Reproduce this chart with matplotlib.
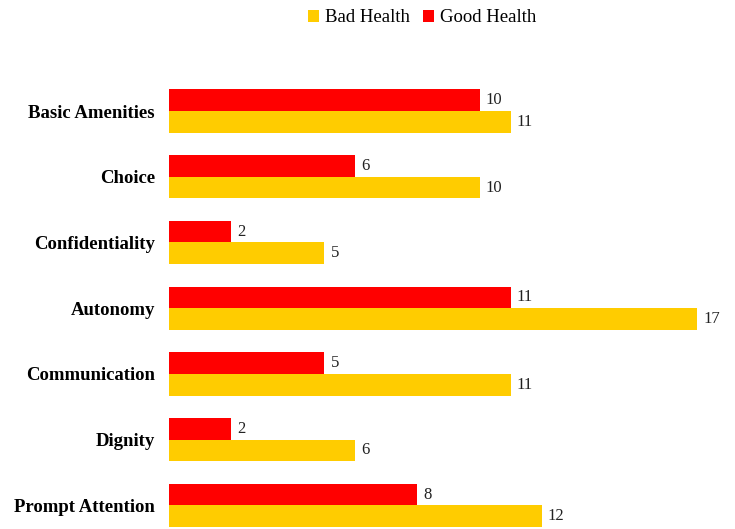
import matplotlib.pyplot as plt
import numpy as np

plt.rcParams['font.family'] = ['Liberation Serif', 'DejaVu Serif']

# 数据
categories = ['Basic Amenities', 'Choice', 'Confidentiality', 'Autonomy',
              'Communication', 'Dignity', 'Prompt Attention']
good_health = [10, 6, 2, 11, 5, 2, 8]
bad_health = [11, 10, 5, 17, 11, 6, 12]

red = '#FF0000'
gold = '#FFCC00'

fig = plt.figure(figsize=(7.35, 5.29), dpi=100)
ax = fig.add_axes([169 / 735, 0, 559 / 735, 469 / 529])

y = np.arange(len(categories))
h = 0.33

bars_bad = ax.barh(y + h / 2, bad_health, height=h, color=gold, label='Bad Health')
bars_good = ax.barh(y - h / 2, good_health, height=h, color=red, label='Good Health')

# 数值标签
for bars in (bars_good, bars_bad):
    for b in bars:
        w = b.get_width()
        ax.annotate(f'{w:g}', (w, b.get_y() + b.get_height() / 2),
                    xytext=(4.5, 0), textcoords='offset points',
                    va='center', ha='left', fontsize=12, color='#222222')

ax.set_xlim(0, 18)
ax.set_ylim(6.36, -0.777)
ax.set_yticks(y)
ax.set_yticklabels(categories, fontsize=13.5, fontweight='bold')
ax.tick_params(axis='y', length=0, pad=10)
ax.set_xticks([])
for s in ax.spines.values():
    s.set_visible(False)

fig.legend(handles=[bars_bad, bars_good], loc='center', ncol=2,
           bbox_to_anchor=(422 / 735, 1 - 18 / 529), frameon=False,
           fontsize=13.5, handlelength=0.6, handleheight=0.6,
           handletextpad=0.3, columnspacing=0.7)

plt.savefig('out.png', dpi=100)
